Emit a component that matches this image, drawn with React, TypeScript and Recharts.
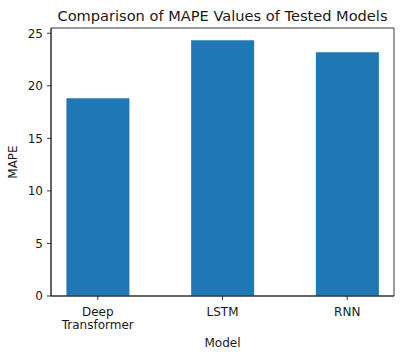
import React from 'react';
import { BarChart, Bar, XAxis, YAxis, ReferenceArea, Label } from 'recharts';

const MODELS = ['Deep\nTransformer', 'LSTM', 'RNN'];
const MAPE = [18.82, 24.33, 23.19];
const Y_TICKS = [0, 5, 10, 15, 20, 25];

const FONT = '"DejaVu Sans", sans-serif';
const TEXT = '#1a1a1a';
const AXIS_LINE = { stroke: '#222', strokeWidth: 0.9 };

const data = MODELS.map((m, i) => ({ idx: i, model: m, mape: MAPE[i] }));

function ModelTick(props: any) {
  const { x, payload } = props;
  const lines = MODELS[payload.value].split('\n');
  return (
    <text x={x} y={316} textAnchor="middle" fontFamily={FONT} fontSize={12} fill={TEXT}>
      {lines.map((l, i) => (
        <tspan key={i} x={x} dy={i === 0 ? 0 : 13}>{l}</tspan>
      ))}
    </text>
  );
}

export default function App() {
  return (
    <div style={{ position: 'absolute', left: 0, top: 0, width: 404, height: 357, background: '#fff' }}>
      <div style={{ position: 'absolute', left: 51, width: 343, top: 7, textAlign: 'center', fontFamily: FONT, fontSize: 14.6, color: TEXT, whiteSpace: 'nowrap' }}>
        Comparison of MAPE Values of Tested Models
      </div>
      <BarChart width={404} height={357} data={data} margin={{ top: 28, right: 10, left: 0, bottom: 0 }}>
        <XAxis
          type="number"
          dataKey="idx"
          domain={[-0.375, 2.375]}
          ticks={[0, 1, 2]}
          height={61}
          axisLine={AXIS_LINE}
          tickLine={AXIS_LINE}
          tickSize={4}
          tick={<ModelTick />}
          interval={0}
        >
          <Label
            content={({ viewBox }: any) => (
              <text x={viewBox.x + viewBox.width / 2} y={viewBox.y + 51} textAnchor="middle" fontFamily={FONT} fontSize={12} fill={TEXT}>
                Model
              </text>
            )}
          />
        </XAxis>
        <YAxis
          type="number"
          domain={[0, 25.5]}
          ticks={Y_TICKS}
          width={51}
          axisLine={AXIS_LINE}
          tickLine={AXIS_LINE}
          tickSize={4}
          tickMargin={4}
          tick={{ fontFamily: FONT, fontSize: 12, fill: TEXT }}
        >
          <Label
            content={({ viewBox }: any) => {
              const cx = viewBox.x + 13;
              const cy = viewBox.y + viewBox.height / 2;
              return (
                <text x={cx} y={cy} transform={`rotate(-90 ${cx} ${cy})`} textAnchor="middle" dominantBaseline="central" fontFamily={FONT} fontSize={12} fill={TEXT}>
                  MAPE
                </text>
              );
            }}
          />
        </YAxis>
        <ReferenceArea x1={-0.375} x2={2.375} y1={0} y2={25.5} fill="none" stroke="#222" strokeWidth={0.9} fillOpacity={0} />
        <Bar dataKey="mape" fill="#1f77b4" barSize={63} isAnimationActive={false} />
      </BarChart>
    </div>
  );
}
